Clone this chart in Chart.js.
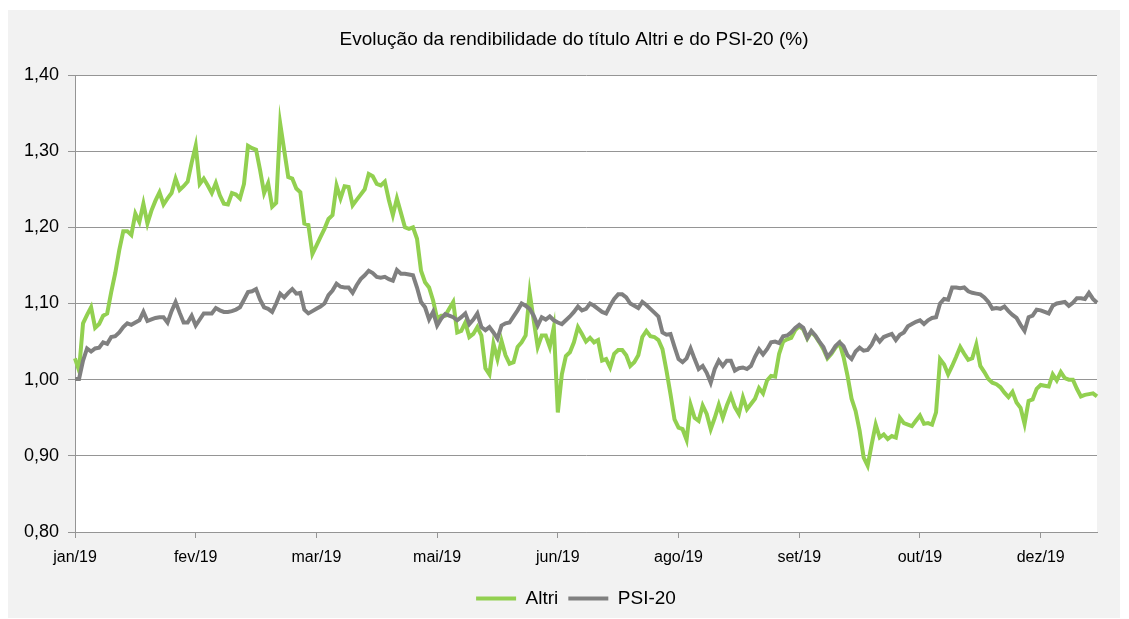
<!DOCTYPE html>
<html>
<head>
    <meta charset="UTF-8">
    <title>Altri vs PSI-20</title>
    <script src="https://cdn.jsdelivr.net/npm/chart.js"></script>
    <style>
        body { margin: 0; background: #ffffff; }
        #box { position: absolute; left: 8px; top: 10px; width: 1112px; height: 608px; background: #f2f2f2; }
    </style>
</head>
<body>
    <div id="box">
        <canvas id="rendChart" width="1112" height="608"></canvas>
    </div>

    <script>
        // month labels shown every 30 trading days
        var tickLabels = ['jan/19', 'fev/19', 'mar/19', 'mai/19', 'jun/19', 'ago/19', 'set/19', 'out/19', 'dez/19'];

        var altri = [
            1.028, 1.012, 1.074, 1.085, 1.095, 1.068, 1.073, 1.084, 1.087, 1.115,
            1.14, 1.17, 1.195, 1.195, 1.19, 1.218, 1.207, 1.231, 1.205, 1.222,
            1.235, 1.246, 1.23, 1.238, 1.245, 1.264, 1.249, 1.254, 1.26, 1.285,
            1.307, 1.257, 1.264, 1.255, 1.245, 1.258, 1.242, 1.231, 1.23, 1.245,
            1.243, 1.238, 1.257, 1.307, 1.304, 1.302, 1.275, 1.245, 1.258, 1.227,
            1.232, 1.336, 1.301, 1.266, 1.264, 1.251, 1.246, 1.205, 1.203, 1.165,
            1.176, 1.187, 1.198, 1.211, 1.216, 1.255, 1.238, 1.254, 1.253, 1.229,
            1.236, 1.243, 1.25, 1.27, 1.267, 1.257, 1.255, 1.26, 1.236, 1.216,
            1.238, 1.219, 1.2, 1.198, 1.2, 1.185, 1.143, 1.128, 1.121, 1.104,
            1.08, 1.084, 1.084, 1.093, 1.102, 1.062, 1.064, 1.075, 1.056, 1.06,
            1.069, 1.058, 1.015, 1.007, 1.047, 1.027, 1.051, 1.032, 1.021, 1.023,
            1.043, 1.049, 1.058, 1.114, 1.078, 1.043, 1.058, 1.058, 1.043, 1.069,
            0.957, 1.007, 1.031, 1.036, 1.049, 1.069, 1.06, 1.05, 1.055, 1.049,
            1.052, 1.025, 1.027, 1.016, 1.034, 1.039, 1.039, 1.032, 1.018, 1.023,
            1.032, 1.056, 1.064, 1.057, 1.056, 1.052, 1.04, 1.012, 0.981, 0.948,
            0.937, 0.935, 0.921, 0.967, 0.95, 0.946, 0.966, 0.955, 0.935, 0.95,
            0.967, 0.95, 0.966, 0.979, 0.964, 0.955, 0.977, 0.961, 0.968, 0.975,
            0.989, 0.982, 0.999, 1.005, 1.004, 1.034, 1.05, 1.053, 1.055, 1.065,
            1.07, 1.066, 1.054, 1.063, 1.057, 1.049, 1.04, 1.028, 1.034, 1.042,
            1.048, 1.03, 1.005, 0.975, 0.959, 0.933, 0.898, 0.887, 0.915, 0.941,
            0.924, 0.928, 0.922, 0.926, 0.924, 0.95, 0.943, 0.941, 0.939, 0.946,
            0.953, 0.942, 0.943, 0.941, 0.957, 1.027, 1.02, 1.007, 1.018, 1.03,
            1.043, 1.034, 1.026, 1.028, 1.046, 1.018, 1.01, 1.001, 0.996, 0.994,
            0.99, 0.983, 0.977, 0.984, 0.97, 0.963, 0.942, 0.972, 0.974, 0.988,
            0.993, 0.992, 0.991, 1.007, 0.999, 1.01, 1.002, 1.0, 1.0, 0.988,
            0.978, 0.98, 0.981, 0.982, 0.978
        ];

        var psi20 = [
            1.001, 1.001, 1.025, 1.041, 1.037, 1.041, 1.042, 1.049, 1.047, 1.056,
            1.057, 1.062, 1.069, 1.074, 1.072, 1.075, 1.078, 1.089, 1.077, 1.079,
            1.081, 1.082, 1.082, 1.075, 1.09, 1.102, 1.088, 1.075, 1.075, 1.084,
            1.071, 1.079, 1.087, 1.087, 1.087, 1.094, 1.091, 1.089, 1.089, 1.09,
            1.092, 1.095, 1.105, 1.115, 1.116, 1.119, 1.105, 1.095, 1.093, 1.089,
            1.1, 1.113, 1.108, 1.114, 1.119, 1.113, 1.114, 1.092, 1.087, 1.09,
            1.093, 1.096, 1.1, 1.111, 1.117, 1.126, 1.122, 1.121, 1.121, 1.114,
            1.124, 1.132, 1.137, 1.143, 1.14, 1.135, 1.134, 1.135, 1.132, 1.13,
            1.144, 1.139, 1.139, 1.138, 1.137, 1.121, 1.102, 1.095, 1.079, 1.089,
            1.071, 1.08, 1.086, 1.084, 1.082, 1.078, 1.082, 1.087, 1.073, 1.079,
            1.087, 1.069, 1.065, 1.069, 1.062, 1.054, 1.071, 1.074, 1.075, 1.083,
            1.091, 1.1, 1.097, 1.093, 1.084, 1.071, 1.082, 1.079, 1.083, 1.078,
            1.075, 1.073, 1.078, 1.083, 1.089, 1.096, 1.091, 1.093, 1.1, 1.097,
            1.093, 1.089, 1.087, 1.097, 1.106, 1.112, 1.112, 1.108, 1.1, 1.097,
            1.094, 1.102, 1.098, 1.093, 1.088, 1.083, 1.062, 1.059, 1.06, 1.043,
            1.027, 1.023, 1.028, 1.041, 1.027, 1.014, 1.018, 1.009, 0.996, 1.014,
            1.025, 1.018, 1.025, 1.025, 1.012, 1.015, 1.016, 1.014, 1.018, 1.03,
            1.04, 1.033, 1.04, 1.049, 1.05, 1.048, 1.057, 1.058, 1.062, 1.068,
            1.072, 1.068, 1.055, 1.064, 1.058, 1.05, 1.043, 1.03, 1.036, 1.044,
            1.049, 1.044, 1.032, 1.027, 1.037, 1.042, 1.038, 1.039, 1.046, 1.057,
            1.05, 1.056, 1.058, 1.06, 1.052, 1.059, 1.062, 1.07, 1.073, 1.076,
            1.078, 1.073, 1.078, 1.081, 1.082, 1.1, 1.106, 1.105, 1.121, 1.121,
            1.12, 1.121, 1.116, 1.114, 1.113, 1.112, 1.108, 1.102, 1.093, 1.094,
            1.093, 1.096, 1.09, 1.085, 1.081, 1.072, 1.064, 1.082, 1.084, 1.092,
            1.091, 1.089, 1.087, 1.097, 1.1, 1.101, 1.102, 1.097, 1.101, 1.107,
            1.107, 1.106, 1.114, 1.106, 1.101
        ];

        var tickEvery = 30;
        var labels = altri.map(function (v, i) {
            return i % tickEvery === 0 ? tickLabels[i / tickEvery] : '';
        });

        var fontFamily = "'Liberation Sans', Arial, sans-serif";
        var gridGray = '#959595';

        // white plot area on the grey chart background
        var plotBg = {
            id: 'plotBg',
            beforeDraw: function (chart) {
                var a = chart.chartArea;
                var ctx = chart.ctx;
                ctx.save();
                ctx.fillStyle = '#ffffff';
                ctx.fillRect(a.left, a.top, a.right - a.left, a.bottom - a.top);
                ctx.restore();
            }
        };

        // title and legend sit a little right of the canvas centre in the original
        var nudge = {
            id: 'nudge',
            afterLayout: function (chart) {
                if (chart.titleBlock) { chart.titleBlock.left = 20; chart.titleBlock.right = chart.width; }
                if (chart.legend) { chart.legend.left = 24; chart.legend.right = chart.width; }
            }
        };

        var ctx = document.getElementById('rendChart').getContext('2d');
        var rendChart = new Chart(ctx, {
            type: 'line',
            data: {
                labels: labels,
                datasets: [{
                    label: 'Altri',
                    data: altri,
                    borderColor: '#92d050',
                    backgroundColor: '#92d050',
                    borderWidth: 4,
                    pointRadius: 0,
                    tension: 0,
                    order: 1
                }, {
                    label: 'PSI-20',
                    data: psi20,
                    borderColor: '#808080',
                    backgroundColor: '#808080',
                    borderWidth: 4,
                    pointRadius: 0,
                    tension: 0,
                    order: 0
                }]
            },
            options: {
                responsive: false,
                animation: false,
                layout: { padding: 0 },
                plugins: {
                    title: {
                        display: true,
                        text: 'Evolução da rendibilidade do título Altri e do PSI-20 (%)',
                        color: '#000000',
                        font: { family: fontFamily, size: 19, weight: 'normal' },
                        padding: { top: 18.6, bottom: 23.6 }
                    },
                    legend: {
                        position: 'bottom',
                        labels: {
                            color: '#000000',
                            font: { family: fontFamily, size: 19 },
                            usePointStyle: true,
                            pointStyle: 'line',
                            pointStyleWidth: 40,
                            padding: 10,
                            sort: function (a, b) { return a.datasetIndex - b.datasetIndex; }
                        }
                    },
                    tooltip: { enabled: false }
                },
                scales: {
                    x: {
                        grid: { drawOnChartArea: false, drawTicks: true, tickLength: 6, color: gridGray },
                        border: { display: true, color: gridGray, width: 1 },
                        ticks: {
                            autoSkip: false,
                            maxRotation: 0,
                            padding: 10,
                            color: '#000000',
                            font: { family: fontFamily, size: 16 }
                        },
                        afterBuildTicks: function (axis) {
                            axis.ticks = axis.ticks.filter(function (t) { return t.value % tickEvery === 0; });
                        },
                        afterFit: function (axis) { axis.height = 47; }
                    },
                    y: {
                        min: 0.8,
                        max: 1.4,
                        grid: { color: gridGray, tickLength: 7, lineWidth: 1 },
                        border: { display: true, color: gridGray, width: 1 },
                        ticks: {
                            stepSize: 0.1,
                            padding: 9,
                            color: '#000000',
                            font: { family: fontFamily, size: 18 },
                            callback: function (v) { return v.toFixed(2).replace('.', ','); }
                        },
                        afterFit: function (axis) { axis.width = 67; }
                    },
                    // empty right-hand strip so the plot stops short of the frame
                    gap: {
                        type: 'linear',
                        position: 'right',
                        grid: { display: false },
                        border: { display: false },
                        ticks: { display: false },
                        afterFit: function (axis) { axis.width = 23; }
                    }
                }
            },
            plugins: [plotBg, nudge]
        });
    </script>
</body>
</html>
